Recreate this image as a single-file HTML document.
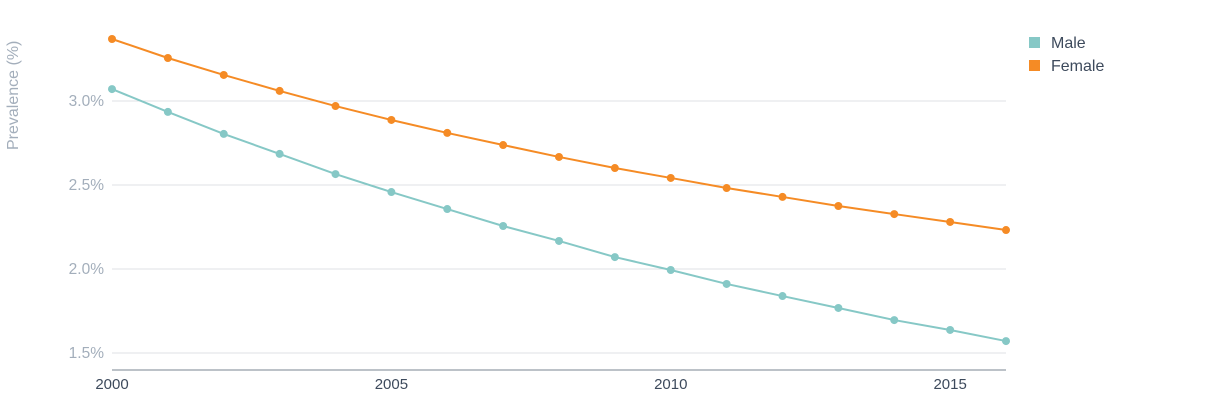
<!DOCTYPE html>
<html><head><meta charset="utf-8"><style>
body{margin:0;background:#fff;width:1230px;height:402px;overflow:hidden;font-family:"Liberation Sans",sans-serif}
</style></head><body>
<svg id="chart" width="1230" height="402" xmlns="http://www.w3.org/2000/svg"></svg>
<script>
const years=[2000,2001,2002,2003,2004,2005,2006,2007,2008,2009,2010,2011,2012,2013,2014,2015,2016];
const female=[3.369,3.256,3.155,3.060,2.970,2.887,2.810,2.738,2.667,2.601,2.542,2.482,2.429,2.375,2.327,2.280,2.232];
const male=[3.071,2.935,2.804,2.685,2.565,2.458,2.357,2.256,2.167,2.071,1.994,1.911,1.839,1.768,1.696,1.637,1.571];
const yTicks=[1.5,2.0,2.5,3.0];
const yTickLabels=["1.5%","2.0%","2.5%","3.0%"];
const xTicks=[2000,2005,2010,2015];

const NS="http://www.w3.org/2000/svg";
const svg=document.getElementById('chart');
const x=v=>112+(v-2000)*(1006-112)/16;
const y=v=>101-(v-3.0)*168;
function mk(tag,attrs,parent){const e=document.createElementNS(NS,tag);for(const k in attrs)e.setAttribute(k,attrs[k]);(parent||svg).appendChild(e);return e;}

yTicks.forEach((t,i)=>{
  const l=mk('line',{x1:112,x2:1006,y1:y(t),y2:y(t),stroke:'#dfe2e6','stroke-width':1});
  
  
  const tx=mk('text',{x:104,y:y(t)+5,'text-anchor':'end','font-size':15.5,fill:'#a3aebb'});
  tx.textContent=yTickLabels[i];
  
  
});
const ax=mk('line',{x1:112,x2:1006,y1:370,y2:370,stroke:'#7a8591','stroke-width':1});


xTicks.forEach(t=>{
  const tx=mk('text',{x:x(t),y:389,'text-anchor':'middle','font-size':15,fill:'#3d4a5c'});
  tx.textContent=t;
  
  
});
const yt=mk('text',{x:0,y:0,transform:'translate(18,150) rotate(-90)','font-size':16,fill:'#a3aebb'});
yt.textContent='Prevalence (%)';



function series(vals,color,name){
  const g=mk('g',{});
  
  
  const p=mk('polyline',{points:vals.map((v,i)=>x(years[i])+','+y(v)).join(' '),fill:'none',stroke:color,'stroke-width':2},g);
  
  
  vals.forEach((v,i)=>{
    const c=mk('circle',{cx:x(years[i]),cy:y(v),r:4,fill:color},g);
    
    
  });
}
series(male,'#86c8c6','male');
series(female,'#f58b25','female');

[['Male','#86c8c6',43],['Female','#f58b25',66]].forEach(([n,c,yy])=>{
  const g=mk('g',{});
  
  
  mk('rect',{x:1029,y:yy-6,width:11,height:11,fill:c},g);
  const t=mk('text',{x:1051,y:yy+5,'font-size':16,fill:'#3d4a5c'},g);
  t.textContent=n;
});
</script>
</body></html>
